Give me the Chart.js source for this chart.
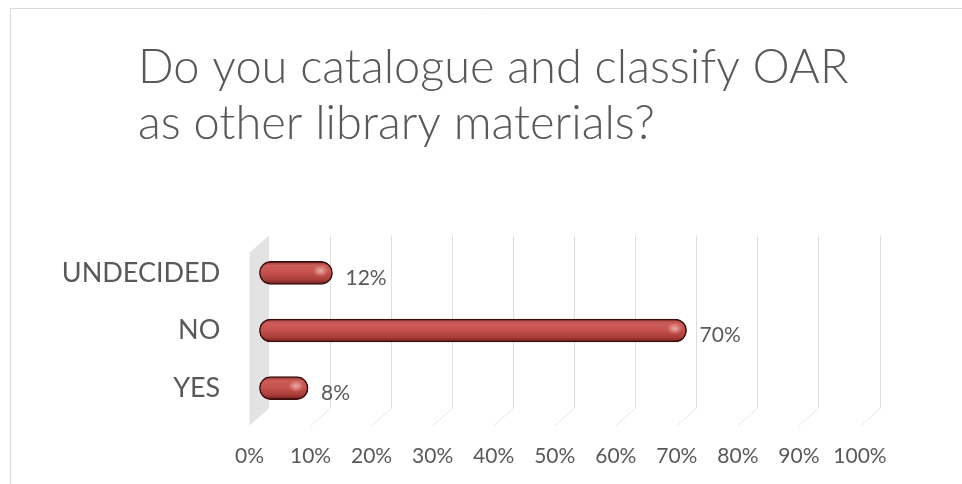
<!DOCTYPE html>
<html>
<head>
<meta charset="utf-8">
<script src="https://cdn.jsdelivr.net/npm/chart.js@4.4.0/dist/chart.umd.min.js"></script>
<style>
body { margin: 0; background: #fff; }
#wrap { position: relative; width: 962px; height: 484px; }
</style>
</head>
<body>
<div id="wrap"><canvas id="oar-chart" width="962" height="484"></canvas></div>
<script>
const titleLines = ['Do you catalogue and classify OAR', 'as other library materials?'];
const categories = ['UNDECIDED', 'NO', 'YES'];
const responses = [12, 70, 8];
const percentTicks = [0, 10, 20, 30, 40, 50, 60, 70, 80, 90, 100];

// depth of the fake 3d box (front plane -> back plane)
const DEPTH_X = 19.5;
const DEPTH_Y = 17;
const BAR_H = 23;

Chart.defaults.font.family = 'Lato, "Open Sans", sans-serif';
Chart.defaults.color = '#595959';

// outer frame + title
const framePlugin = {
	id: 'frame',
	beforeDraw(chart) {
		const ctx = chart.ctx;
		ctx.save();
		ctx.strokeStyle = '#d9d9d9';
		ctx.lineWidth = 1;
		ctx.beginPath();
		ctx.moveTo(10.5, 484);
		ctx.lineTo(10.5, 8.5);
		ctx.lineTo(962, 8.5);
		ctx.stroke();

		ctx.fillStyle = '#595959';
		ctx.font = '300 47px Lato, "Open Sans", sans-serif';
		ctx.textAlign = 'left';
		ctx.textBaseline = 'alphabetic';
		ctx.fillText(titleLines[0], 138, 83);
		ctx.fillText(titleLines[1], 138, 139);
		ctx.restore();
	}
};

// side wall, back wall gridlines and floor lines
const wallPlugin = {
	id: 'wall3d',
	beforeDatasetsDraw(chart) {
		const {ctx, chartArea, scales: {x}} = chart;
		const hx = DEPTH_X / 2, hy = DEPTH_Y / 2;
		const x0 = x.getPixelForValue(0);
		ctx.save();
		ctx.fillStyle = '#e3e3e3';
		ctx.beginPath();
		ctx.moveTo(x0 - hx, chartArea.top + hy);
		ctx.lineTo(x0 + hx, chartArea.top - hy);
		ctx.lineTo(x0 + hx, chartArea.bottom - hy);
		ctx.lineTo(x0 - hx, chartArea.bottom + hy);
		ctx.closePath();
		ctx.fill();

		ctx.lineWidth = 1;
		percentTicks.forEach(v => {
			if (v === 0) return;
			const px = Math.round(x.getPixelForValue(v) + hx) + 0.5;
			ctx.strokeStyle = '#dedede';
			ctx.beginPath();
			ctx.moveTo(px, chartArea.top - hy);
			ctx.lineTo(px, chartArea.bottom - hy);
			ctx.stroke();
			ctx.strokeStyle = '#e6e6e6';
			ctx.beginPath();
			ctx.moveTo(px, chartArea.bottom - hy);
			ctx.lineTo(px - DEPTH_X, chartArea.bottom + hy);
			ctx.stroke();
		});
		ctx.restore();
	}
};

// glossy spot on each bar end + value labels
const barLabelPlugin = {
	id: 'barLabels',
	afterDatasetsDraw(chart) {
		const ctx = chart.ctx;
		const meta = chart.getDatasetMeta(0);
		ctx.save();
		meta.data.forEach((bar, i) => {
			const sx = bar.x - 12, sy = bar.y - 2;
			ctx.save();
			ctx.translate(sx, sy);
			ctx.scale(1.3, 1);
			const g = ctx.createRadialGradient(0, 0, 0, 0, 0, 6);
			g.addColorStop(0, 'rgba(250,200,195,0.75)');
			g.addColorStop(1, 'rgba(250,200,195,0)');
			ctx.fillStyle = g;
			ctx.beginPath();
			ctx.arc(0, 0, 6, 0, Math.PI * 2);
			ctx.fill();
			ctx.restore();

			ctx.fillStyle = '#595959';
			ctx.font = '21px Lato, "Open Sans", sans-serif';
			ctx.textAlign = 'left';
			ctx.textBaseline = 'middle';
			ctx.fillText(responses[i] + '%', bar.x + 13, bar.y + 5);
		});
		ctx.restore();
	}
};

const chartCanvas = document.getElementById('oar-chart');

const oarChart = new Chart(chartCanvas, {
	type: 'bar',
	data: {
		labels: categories,
		datasets: [{
			data: responses,
			barThickness: BAR_H,
			borderRadius: BAR_H / 2,
			borderSkipped: false,
			borderWidth: 1.6,
			borderColor: '#3a0f0e',
			backgroundColor: function (context) {
				const chart = context.chart;
				if (!chart.chartArea || !chart.scales.y) return '#c0504d';
				const y = chart.scales.y.getPixelForValue(context.dataIndex);
				const g = chart.ctx.createLinearGradient(0, y - BAR_H / 2, 0, y + BAR_H / 2);
				g.addColorStop(0, '#9a3835');
				g.addColorStop(0.18, '#cc5d58');
				g.addColorStop(0.45, '#c8534f');
				g.addColorStop(0.8, '#a93d3a');
				g.addColorStop(1, '#6c1d1b');
				return g;
			}
		}]
	},
	options: {
		indexAxis: 'y',
		responsive: false,
		animation: false,
		layout: { padding: { left: 0, right: 92.25, top: 244.1, bottom: 0 } },
		plugins: {
			legend: { display: false },
			tooltip: { enabled: false }
		},
		scales: {
			x: {
				min: 0,
				max: 100,
				afterBuildTicks: scale => { scale.ticks = percentTicks.map(v => ({ value: v })); },
				afterFit: scale => { scale.height = 484 - 416.9; },
				grid: { display: false, drawTicks: false },
				border: { display: false },
				ticks: {
					padding: 27,
					labelOffset: -DEPTH_X / 2,
					font: { size: 21 },
					color: '#595959',
					callback: v => v + '%'
				}
			},
			y: {
				afterFit: scale => { scale.width = 259.25; },
				grid: { display: false, drawTicks: false },
				border: { display: false },
				ticks: {
					padding: 39,
					font: { size: 27 },
					color: '#595959'
				}
			}
		}
	},
	plugins: [framePlugin, wallPlugin, barLabelPlugin]
});
</script>
</body>
</html>
